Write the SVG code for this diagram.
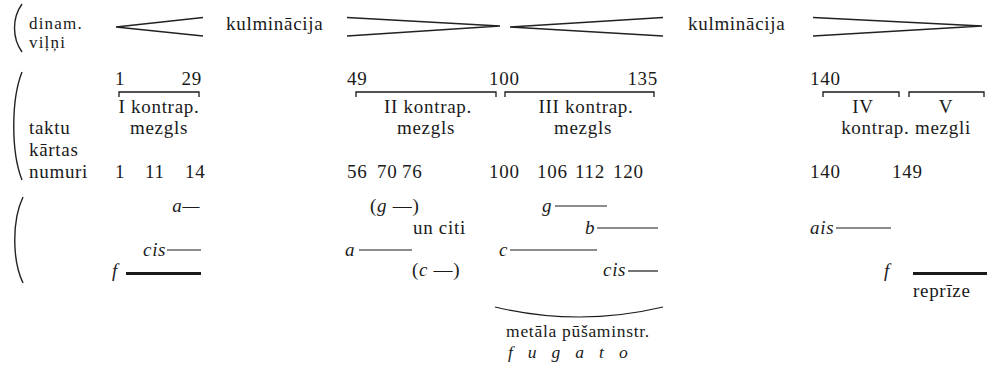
<svg xmlns="http://www.w3.org/2000/svg" width="987" height="376" viewBox="0 0 987 376">
<style>
text{font-family:"Liberation Serif","Times New Roman",serif;font-size:19px;fill:#1a1a1a;letter-spacing:0.7px}
.i{font-style:italic}
.m{text-anchor:middle}
.e{text-anchor:end}
.s{font-size:17px;letter-spacing:1.2px}
.ln{stroke:#1a1a1a;stroke-width:1.2;fill:none}
.th{stroke:#1a1a1a;stroke-width:3;fill:none}
.hp{stroke:#222;stroke-width:1.4;fill:none}
.br{stroke:#1a1a1a;stroke-width:1.3;fill:none}
</style>
<rect width="987" height="376" fill="#fff"/>
<g id="parens">
<path class="hp" d="M22,4 C12,18 12,38 22,52"/>
<path class="hp" d="M22,72 C11,100 11,152 22,180"/>
<path class="hp" d="M23,197 C12,220 12,260 23,283"/>
</g>
<g id="dynamics">
<text class="s" x="29" y="28.5">dinam.</text>
<text class="s" x="29" y="48">viļņi</text>
<path class="hp" d="M203,17.5 L116,27 L203,36"/>
<text x="226" y="30">kulminācija</text>
<path class="hp" d="M347,17.5 L500,26 L347,36"/>
<path class="hp" d="M663,17.5 L510,27 L663,36"/>
<text x="688" y="30">kulminācija</text>
<path class="hp" d="M813,17.5 L982,26 L813,36"/>
</g>
<g id="bars">
<text x="29" y="134">taktu</text>
<text x="29" y="156">kārtas</text>
<text x="29" y="178">numuri</text>
</g>
<g id="node1">
<text x="115" y="85">1</text>
<text class="e" x="202" y="85">29</text>
<path class="br" d="M119,97 V92 H199 V97"/>
<text class="m" x="159" y="113">I kontrap.</text>
<text class="m" x="159" y="134">mezgls</text>
<text x="115" y="178">1</text>
<text x="145" y="178">11</text>
<text x="185" y="178">14</text>
</g>
<g id="node2">
<text x="347" y="85">49</text>
<path class="br" d="M356,97 V92 H496 V97"/>
<text class="m" x="428" y="113">II kontrap.</text>
<text class="m" x="426" y="134">mezgls</text>
<text x="347" y="178">56</text>
<text x="377" y="178">70</text>
<text x="402" y="178">76</text>
</g>
<g id="node3">
<text x="489" y="85">100</text>
<text class="e" x="658" y="85">135</text>
<path class="br" d="M505,97 V92 H654 V97"/>
<text class="m" x="586" y="113">III kontrap.</text>
<text class="m" x="583" y="134">mezgls</text>
<text x="489" y="178">100</text>
<text x="537" y="178">106</text>
<text x="575" y="178">112</text>
<text x="613" y="178">120</text>
</g>
<g id="node45">
<text x="810" y="85">140</text>
<path class="br" d="M823,97 V92 H899 V97"/>
<path class="br" d="M909,97 V92 H984 V97"/>
<text class="m" x="863" y="113">IV</text>
<text class="m" x="946" y="113">V</text>
<text class="m" x="906" y="134">kontrap. mezgli</text>
<text x="810" y="178">140</text>
<text x="892" y="178">149</text>
</g>
<g id="voices">
<text class="e i" x="200" y="212">a—</text>
<text class="i" x="143" y="255.5">cis</text>
<path class="ln" d="M167,250 H201"/>
<text class="i" x="112" y="277">f</text>
<path class="th" d="M126,273.5 H201"/>
<text x="370" y="212"><tspan>(</tspan><tspan class="i">g</tspan><tspan> —)</tspan></text>
<text x="413" y="234">un citi</text>
<text class="i" x="345" y="255.5">a</text>
<path class="ln" d="M359,250 H412"/>
<text x="412" y="276"><tspan>(</tspan><tspan class="i">c</tspan><tspan> —)</tspan></text>
<text class="i" x="542" y="212">g</text>
<path class="ln" d="M555,206 H607"/>
<text class="i" x="585" y="234">b</text>
<path class="ln" d="M597,228 H658"/>
<text class="i" x="499" y="255.5">c</text>
<path class="ln" d="M510,250 H597"/>
<text class="i" x="603" y="276">cis</text>
<path class="ln" d="M628,271 H658"/>
<text class="i" x="810" y="234">ais</text>
<path class="ln" d="M836,228 H891"/>
<text class="i" x="884" y="277">f</text>
<path class="th" d="M913,273.5 H987"/>
<text x="913" y="297">reprīze</text>
</g>
<g id="fugato">
<path class="ln" d="M495,307 Q579,327 663,307"/>
<text class="m" x="578" y="337" style="font-size:17.5px">metāla pūšaminstr.</text>
<text class="i" x="508" y="358" style="font-size:17.5px;letter-spacing:15px">fugato</text>
</g>
</svg>
